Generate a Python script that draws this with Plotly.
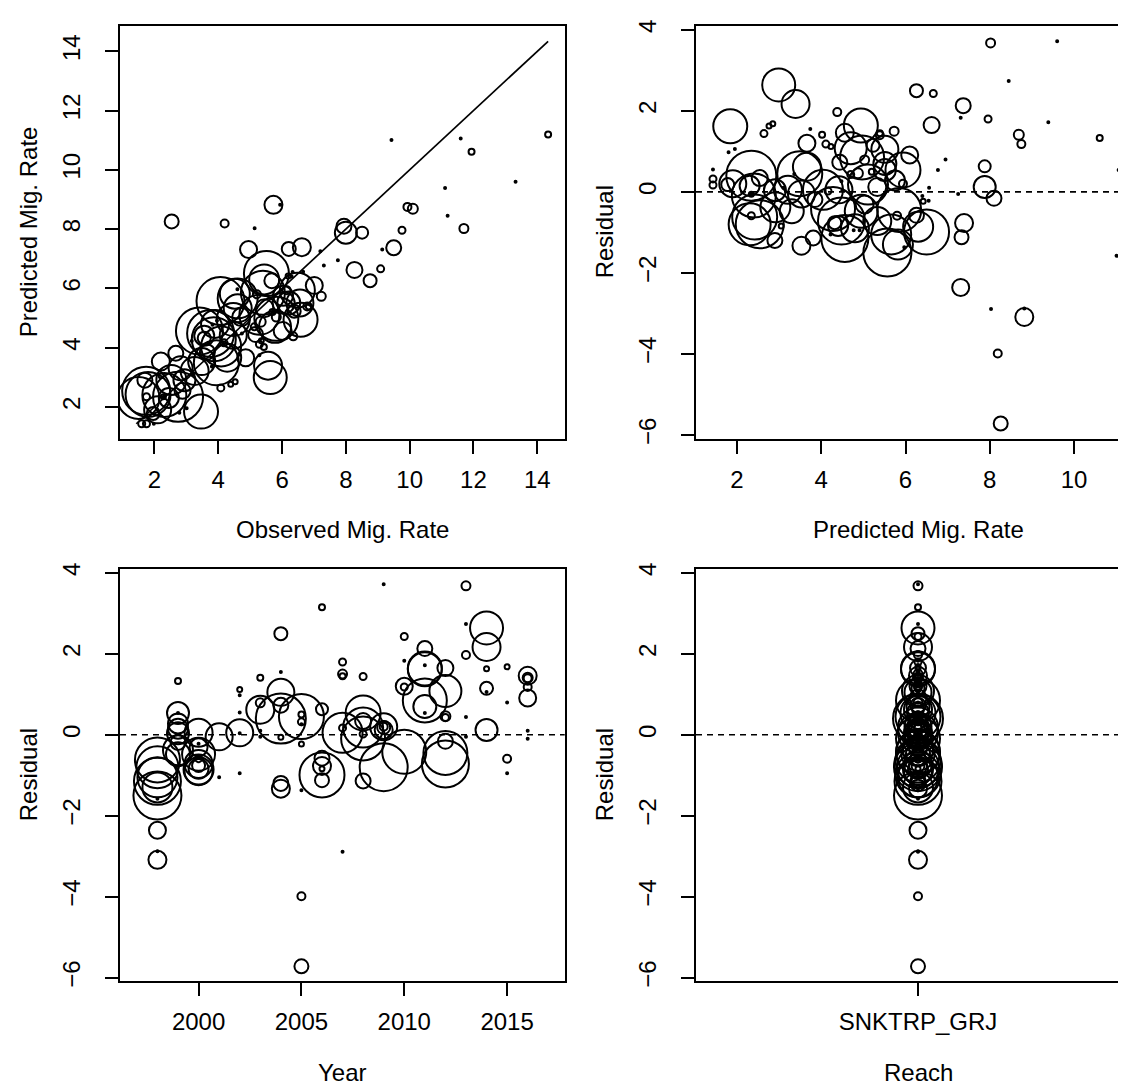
import plotly.graph_objects as go

# ---------------- data ----------------
year = [1998, 1998, 1998, 1998, 1998, 1998, 1998, 1998, 1998, 1998,
        1999, 1999, 1999, 1999, 1999, 1999, 1999, 1999, 1999,
        2000, 2000, 2000, 2000, 2000, 2000, 2000, 2000, 2000, 2000,
        2001, 2001,
        2002, 2002, 2002, 2002, 2002, 2002,
        2003, 2003, 2003, 2003, 2003,
        2004, 2004, 2004, 2004, 2004, 2004, 2004, 2004,
        2005, 2005, 2005, 2005, 2005, 2005, 2005, 2005,
        2006, 2006, 2006, 2006, 2006, 2006, 2006,
        2007, 2007, 2007, 2007, 2007, 2007,
        2008, 2008, 2008, 2008, 2008, 2008, 2008,
        2009, 2009, 2009, 2009, 2009, 2009,
        2010, 2010, 2010, 2010, 2010,
        2011, 2011, 2011, 2011, 2011, 2011, 2011,
        2012, 2012, 2012, 2012, 2012, 2012, 2012,
        2013, 2013, 2013, 2013, 2013,
        2014, 2014, 2014, 2014, 2014, 2014,
        2015, 2015, 2015, 2015,
        2016, 2016, 2016, 2016, 2016, 2016, 2016]

predicted = [2.42, 2.30, 4.56, 5.57, 11.01, 7.31, 8.82, 8.82, 5.66, 5.82,
             10.61, 5.51, 6.77, 5.75, 2.30, 2.90, 3.85, 2.91, 3.30,
             3.21, 6.55, 4.95, 5.33, 6.30, 4.80, 4.32, 5.03, 4.40, 2.34,
             3.53, 4.22,
             4.23, 1.80, 1.43, 4.42, 4.50, 4.77,
             4.02, 5.03, 3.66, 3.10, 2.34,
             6.26, 3.74, 5.51, 4.44, 2.34, 2.34, 2.90, 3.53,
             3.49, 5.20, 1.43, 4.48, 6.42, 5.97, 8.19, 8.26,
             11.19, 7.88, 6.26, 7.39, 3.05, 6.50, 7.33,
             7.96, 5.73, 5.39, 1.43, 4.04, 8.03,
             2.64, 5.94, 2.54, 5.11, 2.40, 3.81, 4.16,
             9.60, 1.90, 1.78, 5.94, 2.54, 5.33,
             6.66, 7.31, 3.66, 4.11, 4.28,
             7.37, 9.39, 4.94, 1.84, 4.97, 5.51, 11.06,
             6.62, 4.70, 4.87, 4.70, 8.10, 5.85, 4.48,
             8.02, 8.45, 4.38, 3.36, 7.25,
             2.99, 3.39, 2.76, 5.23, 1.95, 7.88,
             2.85, 6.95, 5.80, 4.91,
             4.56, 8.69, 5.39, 8.75, 6.10, 6.56, 6.40]

residual = [-0.62, -0.80, -1.15, -1.50, -1.58, -2.36, -2.88, -3.09, -1.05, -1.30,
            1.33, 0.54, 0.54, 0.28, 0.15, 0.04, -0.19, -0.38, -0.48,
            0.05, -0.22, -0.48, -0.72, -0.86, -0.90, -0.76, -0.31, -0.84, -0.59,
            -0.05, -1.05,
            1.12, 0.98, 0.55, 0.05, 0.04, -0.95,
            1.41, 0.79, 0.62, 0.10, -0.05,
            2.50, 1.55, 1.05, 0.73, 0.40, -0.06, -1.20, -1.33,
            0.45, 0.50, 0.32, 0.26, -0.23, -1.37, -3.99, -5.72,
            3.15, 0.63, -0.58, -0.77, -0.84, -0.99, -1.12,
            1.80, 1.50, 1.45, 0.17, 0.05, -2.89,
            1.44, 0.54, 0.34, 0.18, -0.09, -1.14, 0.02,
            3.72, 0.20, 0.18, 0.20, -0.80, 0.12,
            2.43, 1.83, 1.20, 1.18, -0.42,
            2.13, 1.72, 1.64, 1.62, 0.85, 0.70, 0.54,
            1.65, 1.08, 0.46, 0.43, -0.16, -0.45, -0.72,
            3.68, 2.74, 1.97, 0.44, -0.05,
            2.64, 2.17, 1.63, 1.15, 1.06, 0.12,
            1.68, 0.80, -0.59, -0.95,
            1.46, 1.41, 1.40, 1.18, 0.91, 0.10, -0.10]

observed = [1.80, 1.50, 3.41, 4.07, 9.43, 4.95, 5.94, 5.73, 4.61, 4.52,
            11.94, 6.05, 7.31, 6.03, 2.45, 2.94, 3.66, 2.53, 2.82,
            3.26, 6.33, 4.47, 4.61, 5.44, 3.90, 3.56, 4.72, 3.56, 1.75,
            3.48, 3.17,
            5.35, 2.78, 1.98, 4.47, 4.54, 3.82,
            5.43, 5.82, 4.28, 3.20, 2.29,
            8.76, 5.29, 6.56, 5.17, 2.74, 2.28, 1.70, 2.20,
            3.94, 5.70, 1.75, 4.74, 6.19, 4.60, 4.20, 2.54,
            14.34, 8.51, 5.68, 6.62, 2.21, 5.51, 6.21,
            9.76, 7.23, 6.84, 1.60, 4.09, 5.14,
            4.08, 6.48, 2.88, 5.29, 2.31, 2.67, 4.18,
            13.32, 2.10, 1.96, 6.14, 1.74, 5.45,
            9.09, 9.14, 4.86, 5.29, 3.86,
            9.50, 11.11, 6.58, 3.46, 5.82, 6.21, 11.60,
            8.27, 5.78, 5.33, 5.13, 7.94, 5.40, 3.76,
            11.70, 11.19, 6.35, 3.80, 7.20,
            5.63, 5.56, 4.39, 6.38, 3.01, 8.00,
            4.53, 7.75, 5.21, 3.96,
            6.02, 10.10, 6.79, 9.93, 7.01, 6.66, 6.30]

# relative weight of each estimate (drives the circle size)
weight = [4.5, 4.2, 4.7, 4.8, 0.2, 1.7, 0.2, 1.8, 4.0, 3.0,
          0.6, 2.2, 0.2, 2.0, 2.0, 2.2, 1.5, 3.0, 2.4,
          2.8, 0.2, 3.3, 2.8, 3.0, 2.8, 1.3, 1.8, 2.0, 0.7,
          2.7, 0.2,
          0.5, 0.2, 0.2, 2.7, 0.2, 0.2,
          0.6, 0.9, 2.8, 0.2, 0.2,
          1.3, 0.2, 2.7, 1.5, 5.0, 0.5, 1.5, 1.8,
          4.5, 0.6, 0.7, 0.2, 0.5, 0.2, 0.8, 1.4,
          0.6, 1.2, 1.5, 1.8, 0.5, 4.5, 1.4,
          0.7, 0.9, 0.6, 0.7, 4.0, 0.2,
          0.7, 3.5, 1.6, 4.0, 4.4, 1.5, 0.7,
          0.2, 2.7, 1.3, 0.8, 4.8, 1.8,
          0.7, 0.2, 1.7, 0.7, 4.4,
          1.5, 0.2, 3.4, 3.4, 4.4, 2.3, 0.2,
          1.6, 3.2, 1.0, 0.7, 1.5, 4.4, 4.7,
          0.9, 0.2, 0.8, 0.2, 0.2,
          3.3, 2.8, 0.5, 1.3, 0.2, 2.2,
          0.5, 0.2, 0.8, 0.2,
          1.8, 1.0, 0.8, 0.8, 1.7, 0.2, 0.2]

reach = ["SNKTRP_GRJ"] * len(year)

# ---------------- styling ----------------
SIZE_SCALE = 10.0
FONT = "Liberation Sans, Arial, Helvetica, sans-serif"
FS = 24
sizes = [w * SIZE_SCALE for w in weight]

marker = dict(symbol="circle-open", color="black", size=sizes, opacity=1,
              line=dict(color="black", width=2.0))

fig = go.Figure()

# Panel 1: observed vs predicted
fig.add_trace(go.Scatter(x=observed, y=predicted, mode="markers",
                         marker=marker, xaxis="x", yaxis="y", hoverinfo="skip"))
lo = min(min(observed), min(predicted))
hi = max(max(observed), max(predicted))
fig.add_trace(go.Scatter(x=[lo, hi], y=[lo, hi], mode="lines",
                         line=dict(color="black", width=1.7), xaxis="x", yaxis="y"))

# Panel 2: predicted vs residual
fig.add_trace(go.Scatter(x=predicted, y=residual, mode="markers",
                         marker=marker, xaxis="x2", yaxis="y2"))
# Panel 3: year vs residual
fig.add_trace(go.Scatter(x=year, y=residual, mode="markers",
                         marker=marker, xaxis="x3", yaxis="y3"))
# Panel 4: reach vs residual
fig.add_trace(go.Scatter(x=reach, y=residual, mode="markers",
                         marker=marker, xaxis="x4", yaxis="y4"))

W, H = 1126, 1085
XL = [112 / W, 556.7 / W]
XR = [688 / W, 1.0]
YT = [1 - 429 / H, 1 - 11 / H]
YB = [1 - 978 / H, 1 - 561 / H]

base = dict(showgrid=False, zeroline=False, showline=True, linecolor="black",
            linewidth=1.7, ticks="outside", ticklen=13, tickwidth=1.7,
            tickcolor="black", tickfont=dict(family=FONT, size=FS, color="black"))

def ax(**kw):
    d = dict(base)
    d.update(kw)
    return d

res_ticks = [-6, -4, -2, 0, 2, 4]
XSO = 5    # x tick label standoff
YSO = 16   # y tick label standoff

fig.update_layout(
    width=W, height=H, margin=dict(l=0, r=0, t=0, b=0),
    paper_bgcolor="white", plot_bgcolor="white", showlegend=False,
    xaxis=ax(domain=XL, range=[0.92, 14.86], tickvals=list(range(2, 15, 2)),
             mirror=True, anchor="y", ticklabelstandoff=XSO),
    yaxis=ax(domain=YT, range=[0.92, 14.86], tickvals=list(range(2, 15, 2)),
             mirror=True, anchor="x", tickangle=-90, ticklabelstandoff=YSO),
    xaxis2=ax(domain=XR, range=[1.027, 11.424], tickvals=[2, 4, 6, 8, 10],
              mirror=True, anchor="y2", ticklabelstandoff=XSO),
    yaxis2=ax(domain=YT, range=[-6.10, 4.10], tickvals=res_ticks,
              anchor="x2", tickangle=-90, ticklabelstandoff=YSO),
    xaxis3=ax(domain=XL, range=[1996.18, 2017.8], tickvals=[2000, 2005, 2010, 2015],
              mirror=True, anchor="y3", ticklabelstandoff=XSO),
    yaxis3=ax(domain=YB, range=[-6.09, 4.09], tickvals=res_ticks,
              mirror=True, anchor="x3", tickangle=-90, ticklabelstandoff=YSO),
    xaxis4=ax(domain=XR, type="category", range=[-0.5, 0.4865],
              mirror=True, anchor="y4", ticklabelstandoff=XSO),
    yaxis4=ax(domain=YB, range=[-6.09, 4.09], tickvals=res_ticks,
              anchor="x4", tickangle=-90, ticklabelstandoff=YSO),
)

# dashed zero lines
for xr, yr in [("x2", "y2"), ("x3", "y3"), ("x4", "y4")]:
    fig.add_shape(type="line", xref=f"{xr} domain", yref=yr, x0=0, x1=1, y0=0, y1=0,
                  line=dict(color="black", width=1.6, dash="6px,5px"))

# axis titles
def title(text, x, y, angle=0):
    fig.add_annotation(text=text, x=x, y=y, xref="paper", yref="paper",
                       showarrow=False, textangle=angle, xanchor="center", yanchor="middle",
                       font=dict(family=FONT, size=FS, color="black"))

cxL = (112 + 556.7) / 2 / W
cxR = (688 + 445 / 2) / W
title("Observed Mig. Rate", cxL, 1 - 521 / H)
title("Predicted Mig. Rate", cxR, 1 - 521 / H)
title("Year", cxL, 1 - 1070 / H)
title("Reach", cxR, 1 - 1070 / H)
title("Predicted Mig. Rate", 20 / W, 1 - 220 / H, -90)
title("Residual", 596 / W, 1 - 220 / H, -90)
title("Residual", 20 / W, 1 - 769.5 / H, -90)
title("Residual", 596 / W, 1 - 769.5 / H, -90)

fig.write_html("out.html")
